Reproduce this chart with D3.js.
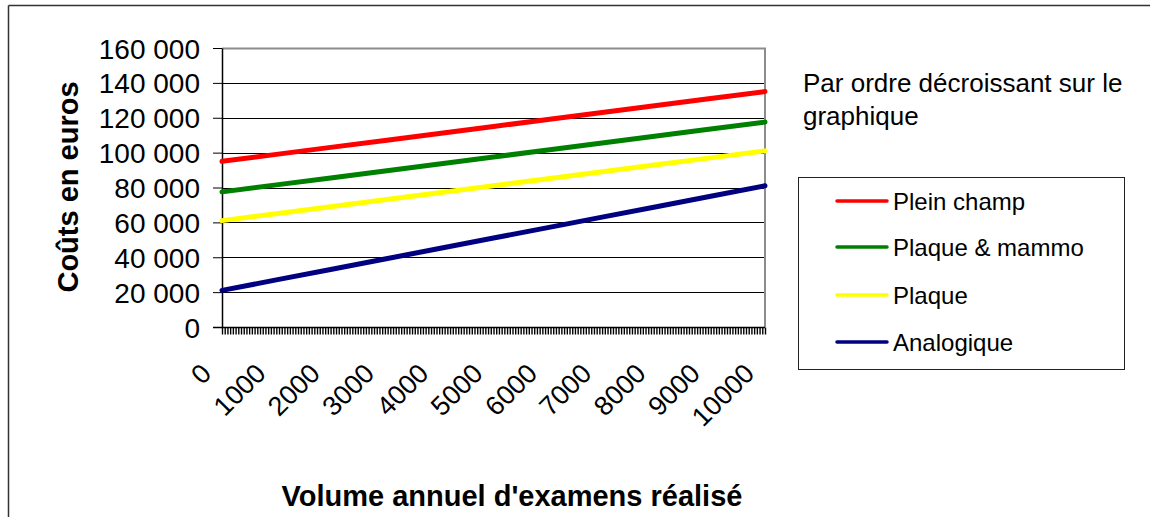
<!DOCTYPE html>
<html>
<head>
<meta charset="utf-8">
<script src="https://cdn.jsdelivr.net/npm/d3@7"></script>
<style>
  html, body { margin: 0; padding: 0; background: #fff; }
  svg { display: block; font-family: "Liberation Sans", Arial, sans-serif; }
</style>
</head>
<body>
<svg id="chart" width="1150" height="517"></svg>
<script>
// ---- Data ----
const volumes = [0, 1000, 2000, 3000, 4000, 5000, 6000, 7000, 8000, 9000, 10000];
const xTickLabels = ["0", "1000", "2000", "3000", "4000", "5000", "6000", "7000", "8000", "9000", "10000"];
const yTicks = [0, 20000, 40000, 60000, 80000, 100000, 120000, 140000, 160000];
const seriesNames = ["Plein champ", "Plaque & mammo", "Plaque", "Analogique"];
const seriesColors = ["#ff0000", "#008000", "#ffff00", "#000080"];
const pleinChamp   = [95000, 99000, 103000, 107000, 111000, 115000, 119000, 123000, 127000, 131000, 135000];
const plaqueMammo  = [77500, 81500, 85500, 89500, 93500, 97500, 101500, 105500, 109500, 113500, 117500];
const plaque       = [61000, 65000, 69000, 73000, 77000, 81000, 85000, 89000, 93000, 97000, 101000];
const analogique   = [21000, 27000, 33000, 39000, 45000, 51000, 57000, 63000, 69000, 75000, 81000];
const categoryStep = 50;
const yTitle = "Coûts en euros";
const xTitle = "Volume annuel d'examens réalisé";
const noteLines = ["Par ordre décroissant sur le", "graphique"];

const seriesValues = [pleinChamp, plaqueMammo, plaque, analogique];

// ---- Layout ----
const svg = d3.select("#chart");
const plot = { left: 222, right: 765, top: 48, bottom: 327 };

const x = d3.scaleLinear().domain([0, 10000]).range([plot.left, plot.right]);
const y = d3.scaleLinear().domain([0, 160000]).range([plot.bottom, plot.top]);

const locale = d3.formatLocale({ decimal: ",", thousands: " ", grouping: [3], currency: ["", " €"] });
const fmt = locale.format(",d");

// outer chart-area border (left & top visible)
svg.append("line").attr("x1", 8.5).attr("x2", 8.5).attr("y1", 5.5).attr("y2", 517)
  .attr("stroke", "#333").attr("stroke-width", 1.5);
svg.append("line").attr("x1", 8.5).attr("x2", 1150).attr("y1", 5.5).attr("y2", 5.5)
  .attr("stroke", "#333").attr("stroke-width", 1.5);

// gridlines
svg.append("g").selectAll("line").data(yTicks.filter(d => d > 0 && d < 160000)).join("line")
  .attr("x1", plot.left).attr("x2", plot.right)
  .attr("y1", d => Math.round(y(d)) + 0.5).attr("y2", d => Math.round(y(d)) + 0.5)
  .attr("stroke", "#000").attr("stroke-width", 1);

// plot-area border (top/right gray)
svg.append("path")
  .attr("d", `M${plot.left},${plot.top + 0.5}H${plot.right}V${plot.bottom}`)
  .attr("fill", "none").attr("stroke", "#8c8c8c").attr("stroke-width", 2);

// x minor ticks
const minorTicks = d3.range(0, 10000 + categoryStep / 2, categoryStep);
const xAxis = d3.axisBottom(x).tickValues(minorTicks).tickSize(7).tickSizeOuter(0).tickFormat("");
const gx = svg.append("g").attr("transform", `translate(0,${plot.bottom + 0.5})`).call(xAxis);
gx.select(".domain").remove();
gx.selectAll(".tick line").attr("stroke", "#000").attr("stroke-width", 1.4);

// y axis
const yAxis = d3.axisLeft(y).tickValues(yTicks).tickSize(9).tickSizeOuter(0).tickPadding(13).tickFormat(fmt);
const gy = svg.append("g").attr("transform", `translate(${plot.left},0)`).call(yAxis);
gy.select(".domain").attr("stroke", "#000").attr("stroke-width", 1.5);
gy.selectAll(".tick line").attr("stroke", "#000");
gy.selectAll(".tick text").attr("font-size", 28).attr("fill", "#000")
  .attr("font-family", "Liberation Sans, Arial, sans-serif").attr("dy", "0.36em");

// x axis line
svg.append("line").attr("x1", plot.left - 9).attr("x2", plot.right)
  .attr("y1", plot.bottom + 0.5).attr("y2", plot.bottom + 0.5)
  .attr("stroke", "#000").attr("stroke-width", 1.5);

// x tick labels (rotated)
svg.append("g").selectAll("text").data(volumes).join("text")
  .attr("transform", (d) => `translate(${x(d) - 9},375) rotate(-45)`)
  .attr("text-anchor", "end").attr("font-size", 27).attr("fill", "#000")
  .text((d, i) => xTickLabels[i]);

// series lines
const line = d3.line().x((d, i) => x(volumes[i])).y(d => y(d));
svg.append("g").selectAll("path").data(seriesValues).join("path")
  .attr("d", d => line(d))
  .attr("fill", "none")
  .attr("stroke", (d, i) => seriesColors[i])
  .attr("stroke-width", 5)
  .attr("stroke-linecap", "round");

// axis titles
svg.append("text")
  .attr("transform", `translate(78,187) rotate(-90)`)
  .attr("text-anchor", "middle").attr("font-size", 29).attr("font-weight", "bold")
  .text(yTitle);
svg.append("text")
  .attr("x", 512).attr("y", 506)
  .attr("text-anchor", "middle").attr("font-size", 29).attr("font-weight", "bold")
  .text(xTitle);

// note
svg.append("g").selectAll("text").data(noteLines).join("text")
  .attr("x", 803).attr("y", (d, i) => 92 + i * 33)
  .attr("font-size", 26).attr("fill", "#000")
  .text(d => d);

// legend
const legend = svg.append("g");
legend.append("rect").attr("x", 798.5).attr("y", 177.5).attr("width", 326).attr("height", 192)
  .attr("fill", "#fff").attr("stroke", "#222").attr("stroke-width", 1);
const rowY = [201, 247, 295, 342];
const items = legend.selectAll("g.item").data(seriesNames).join("g").attr("class", "item")
  .attr("transform", (d, i) => `translate(0,${rowY[i]})`);
items.append("line").attr("x1", 837).attr("x2", 887).attr("y1", 0).attr("y2", 0)
  .attr("stroke", (d, i) => seriesColors[i]).attr("stroke-width", 3.5).attr("stroke-linecap", "round");
items.append("text").attr("x", 893).attr("y", 0).attr("dy", "0.36em")
  .attr("font-size", 24).attr("fill", "#000").text(d => d);
</script>
</body>
</html>
